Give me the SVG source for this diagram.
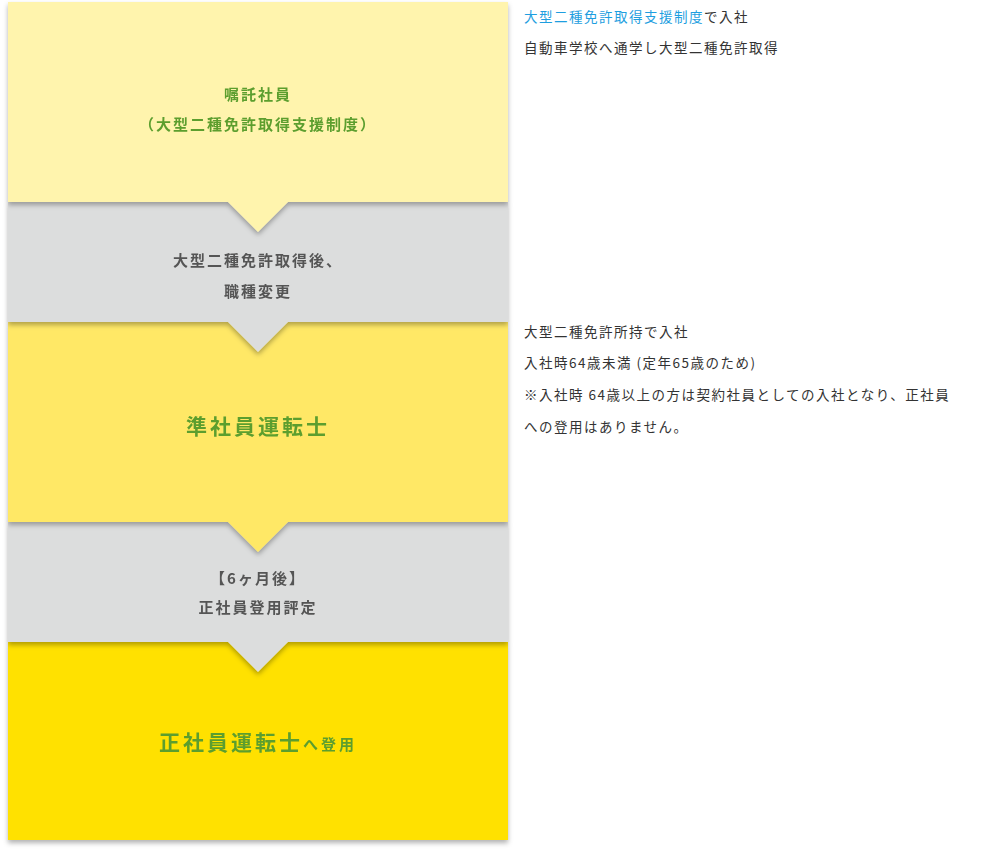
<svg xmlns="http://www.w3.org/2000/svg" width="1000" height="855" viewBox="0 0 1000 855">
<defs>
<filter id="sh" x="-5%" y="-5%" width="110%" height="115%"><feDropShadow dx="0" dy="3" stdDeviation="2.5" flood-color="#000" flood-opacity="0.3"/></filter>
<style>
text{font-family:"Noto Sans CJK JP","Noto Sans",sans-serif}
.g{fill:#5c9e2f;font-weight:bold;text-anchor:middle}
.k{fill:#555;font-weight:bold;text-anchor:middle;font-size:15px;letter-spacing:2px}
.r{fill:#333;font-size:13.5px;letter-spacing:1.5px}
</style>
</defs>
<rect x="0" y="0" width="1000" height="855" fill="#fff"/>
<g id="n5" filter="url(#sh)"><rect x="8" y="642" width="500" height="198" fill="#ffe100"/>
<text class="g" x="258" y="750" font-size="21" letter-spacing="3">正社員運転士<tspan font-size="15">へ登用</tspan></text></g>
<g id="n4" filter="url(#sh)"><path d="M8 522H508V642H288L258 672L228 642H8Z" fill="#dcdddd"/>
<text class="k" x="258" y="584">【6ヶ月後】</text><text class="k" x="258" y="613">正社員登用評定</text></g>
<g id="n3" filter="url(#sh)"><path d="M8 322H508V522H288L258 552L228 522H8Z" fill="#ffe866"/>
<text class="g" x="258" y="434" font-size="21" letter-spacing="3">準社員運転士</text></g>
<g id="n2" filter="url(#sh)"><path d="M8 202H508V322H288L258 352L228 322H8Z" fill="#dcdddd"/>
<text class="k" x="258" y="266">大型二種免許取得後、</text><text class="k" x="258" y="297">職種変更</text></g>
<g id="n1" filter="url(#sh)"><path d="M8 2H508V202H288L258 232L228 202H8Z" fill="#fff4ad"/>
<text class="g" x="258" y="100" font-size="15" letter-spacing="2">嘱託社員</text>
<text class="g" x="258" y="130" font-size="15" letter-spacing="2">（大型二種免許取得支援制度）</text></g>
<g id="notes">
<text class="r" x="524" y="22"><tspan fill="#1e9ee0">大型二種免許取得支援制度</tspan>で入社</text>
<text class="r" x="524" y="53">自動車学校へ通学し大型二種免許取得</text>
<text class="r" x="524" y="337">大型二種免許所持で入社</text>
<text class="r" x="524" y="368">入社時64歳未満 (定年65歳のため)</text>
<text class="r" x="524" y="400">※入社時 64歳以上の方は契約社員としての入社となり、正社員</text>
<text class="r" x="524" y="432">への登用はありません。</text>
</g>
<g id="connectors"/>
</svg>
